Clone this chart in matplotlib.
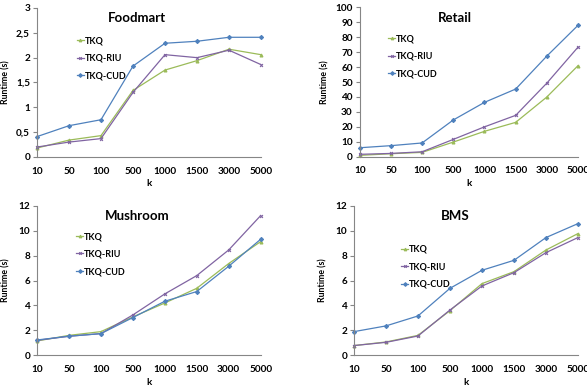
import matplotlib.pyplot as plt
from matplotlib.ticker import FuncFormatter

# -----------------------------
# Data
# -----------------------------
k_labels = ['10', '50', '100', '500', '1000', '1500', '3000', '5000']
series_names = ['TKQ', 'TKQ-RIU', 'TKQ-CUD']

foodmart_tkq = [0.18, 0.34, 0.43, 1.34, 1.75, 1.94, 2.17, 2.06]
foodmart_riu = [0.20, 0.30, 0.37, 1.30, 2.06, 2.00, 2.15, 1.86]
foodmart_cud = [0.41, 0.63, 0.75, 1.83, 2.29, 2.33, 2.41, 2.41]

retail_tkq = [0.9, 2.0, 2.9, 9.8, 17.0, 23.0, 40.0, 61.0]
retail_riu = [1.6, 2.2, 3.3, 11.6, 20.0, 27.7, 49.3, 73.4]
retail_cud = [6.0, 7.4, 9.2, 24.6, 36.4, 45.3, 67.4, 88.0]

mushroom_tkq = [1.15, 1.60, 1.90, 3.08, 4.20, 5.38, 7.37, 9.13]
mushroom_riu = [1.20, 1.53, 1.74, 3.24, 4.93, 6.40, 8.46, 11.22]
mushroom_cud = [1.23, 1.53, 1.74, 3.03, 4.34, 5.12, 7.15, 9.32]

bms_tkq = [0.78, 1.07, 1.60, 3.59, 5.76, 6.72, 8.46, 9.78]
bms_riu = [0.78, 1.04, 1.55, 3.64, 5.57, 6.64, 8.25, 9.46]
bms_cud = [1.90, 2.36, 3.16, 5.38, 6.83, 7.63, 9.46, 10.58]

colors = ['#9BBB59', '#8064A2', '#4F81BD']
markers = ['^', 'x', 'D']

# -----------------------------
# Panels: title, data, y-range, step, axes rect, title pos, legend pos
# -----------------------------
panels = [
    ('Foodmart', [foodmart_tkq, foodmart_riu, foodmart_cud], 3, 0.5,
     [0.063, 0.5954, 0.3816, 0.384], (0.446, 0.97), (0.177, 0.81)),
    ('Retail', [retail_tkq, retail_riu, retail_cud], 100, 10,
     [0.6128, 0.5961, 0.372, 0.385], (0.437, 0.97), (0.13, 0.82)),
    ('Mushroom', [mushroom_tkq, mushroom_riu, mushroom_cud], 12, 2,
     [0.063, 0.0843, 0.381, 0.385], (0.446, 0.975), (0.174, 0.825)),
    ('BMS', [bms_tkq, bms_riu, bms_cud], 12, 2,
     [0.603, 0.0843, 0.3817, 0.385], (0.45, 0.975), (0.211, 0.74)),
]

plt.rcParams['font.family'] = ['Lato', 'DejaVu Sans']
plt.rcParams['font.weight'] = 'bold'

fig = plt.figure(figsize=(5.87, 3.88), dpi=100)
x = list(range(len(k_labels)))
axis_gray = '#868686'

for title, data, ymax, step, rect, tpos, lpos in panels:
    ax = fig.add_axes(rect)
    for vals, name, c, m in zip(data, series_names, colors, markers):
        ax.plot(x, vals, color=c, lw=0.9, marker=m, ms=2.1, mew=0.8,
                label=name, clip_on=False)

    ax.set_xlim(0, len(k_labels) - 1)
    ax.set_ylim(0, ymax)
    ax.set_xticks(x)
    ax.set_xticklabels(k_labels)
    yt = [i * step for i in range(int(round(ymax / step)) + 1)]
    ax.set_yticks(yt)
    if step < 1:
        ax.yaxis.set_major_formatter(
            FuncFormatter(lambda v, p: ('%g' % v).replace('.', ',')))

    for s in ['top', 'right']:
        ax.spines[s].set_visible(False)
    for s in ['left', 'bottom']:
        ax.spines[s].set_color(axis_gray)
        ax.spines[s].set_linewidth(0.8)
    ax.tick_params(axis='x', length=0, pad=7, labelsize=7.2)
    ax.tick_params(axis='y', length=3, width=0.8, color=axis_gray,
                   pad=2, labelsize=7.2)

    ax.text(tpos[0], tpos[1], title, transform=ax.transAxes,
            ha='center', va='top', fontsize=9.5, fontweight='bold')
    ax.set_ylabel('Runtime (s)', fontsize=6.3, fontweight='bold')
    ax.yaxis.set_label_coords(-0.12 if ymax < 50 else -0.14, 0.5)
    ax.set_xlabel('k', fontsize=7, fontweight='bold')
    ax.xaxis.set_label_coords(0.5, -0.15)

    ax.legend(loc='upper left', bbox_to_anchor=lpos, frameon=False,
              fontsize=6.5, handlelength=0.8, handletextpad=0.1,
              labelspacing=0.95, borderpad=0, borderaxespad=0,
              markerscale=0.9)

fig.savefig('out.png', dpi=100)
